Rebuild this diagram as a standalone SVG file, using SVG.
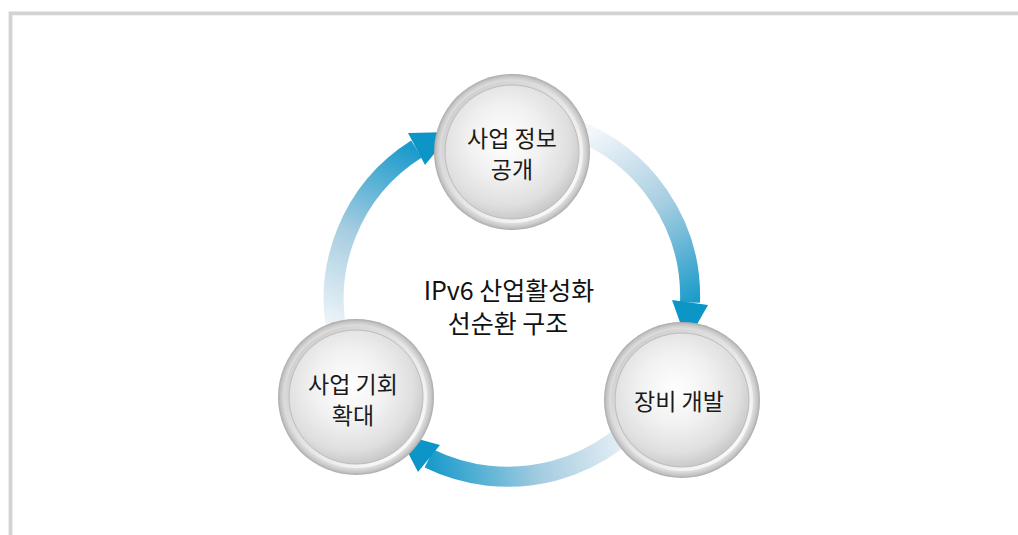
<svg xmlns="http://www.w3.org/2000/svg" xmlns:xlink="http://www.w3.org/1999/xlink" width="1018" height="535" viewBox="0 0 1018 535">
  <style>
    .frame { fill: none; stroke: #d3d3d3; }
    .label { font-family: "Noto Sans CJK KR", "Noto Sans", sans-serif; font-size: 23px; fill: #1a1a1a; text-anchor: middle; }
    .title { font-family: "Noto Sans CJK KR", "Noto Sans", sans-serif; font-size: 25px; fill: #111111; text-anchor: middle; }
    .shaft { fill: none; stroke-width: 20; stroke-linecap: butt; }
    .head { fill: #0b96c7; }
  </style>
  <defs>
    <radialGradient id="rim" cx="0.5" cy="0.5" r="0.5">
      <stop offset="0" stop-color="#f7f7f7"/>
      <stop offset="0.82" stop-color="#ececec"/>
      <stop offset="0.92" stop-color="#dcdcdc"/>
      <stop offset="0.97" stop-color="#c4c4c4"/>
      <stop offset="1" stop-color="#a9a9a9"/>
    </radialGradient>
    <linearGradient id="groove" x1="0.15" y1="0.15" x2="0.85" y2="0.85">
      <stop offset="0" stop-color="#d0d0d0"/>
      <stop offset="0.5" stop-color="#e6e6e6"/>
      <stop offset="1" stop-color="#f8f8f8"/>
    </linearGradient>
    <radialGradient id="face" cx="0.45" cy="0.42" r="0.6">
      <stop offset="0" stop-color="#ffffff"/>
      <stop offset="0.45" stop-color="#f1f1f1"/>
      <stop offset="0.8" stop-color="#dfdfdf"/>
      <stop offset="1" stop-color="#c6c6c6"/>
    </radialGradient>
    <!-- silver button shared by all three nodes -->
    <g id="sphere">
      <circle r="78" fill="url(#rim)"/>
      <circle r="71" fill="url(#groove)"/>
      <circle r="67" fill="url(#face)" stroke="#bcbcbc" stroke-width="1"/>
    </g>
    <linearGradient id="g1" gradientUnits="userSpaceOnUse" x1="585" y1="135" x2="690" y2="305">
      <stop offset="0" stop-color="#f4f7fa"/>
      <stop offset="0.5" stop-color="#a6cde1"/>
      <stop offset="1" stop-color="#1a9bcb"/>
    </linearGradient>
    <linearGradient id="g2" gradientUnits="userSpaceOnUse" x1="640" y1="420" x2="430" y2="462">
      <stop offset="0" stop-color="#f4f7fa"/>
      <stop offset="0.5" stop-color="#a6cde1"/>
      <stop offset="1" stop-color="#1a9bcb"/>
    </linearGradient>
    <linearGradient id="g3" gradientUnits="userSpaceOnUse" x1="334" y1="335" x2="416" y2="150">
      <stop offset="0" stop-color="#f4f7fa"/>
      <stop offset="0.5" stop-color="#a6cde1"/>
      <stop offset="1" stop-color="#1a9bcb"/>
    </linearGradient>
  </defs>

  <!-- page frame: top and left rules -->
  <path class="frame" d="M10.5 535 V13.3 H1018" stroke-width="3.8"/>

  <!-- cycle connectors -->
  <g id="connectors">
    <path class="shaft" stroke="url(#g1)" d="M571.9 128.7 A178 178 0 0 1 690 302.5"/>
    <polygon class="head" points="672,300 708,305 687,342"/>
    <path class="shaft" stroke="url(#g2)" d="M656.8 398.1 A180 180 0 0 1 429 458.5"/>
    <polygon class="head" points="440,445 418,472 398,433.5"/>
    <path class="shaft" stroke="url(#g3)" d="M339.1 342.1 A177 177 0 0 1 416.5 149"/>
    <polygon class="head" points="408,133 425,165 452,132"/>
  </g>

  <g id="node-info" transform="translate(512,152)">
    <use xlink:href="#sphere"/>
    <text class="label" x="0" y="-5">사업 정보</text>
    <text class="label" x="0" y="26">공개</text>
  </g>

  <g id="node-equipment" transform="translate(682,400)">
    <use xlink:href="#sphere"/>
    <text class="label" x="-3" y="10">장비 개발</text>
  </g>

  <g id="node-opportunity" transform="translate(356,397)">
    <use xlink:href="#sphere"/>
    <text class="label" x="-3" y="-4">사업 기회</text>
    <text class="label" x="-3" y="27">확대</text>
  </g>

  <g id="center-title">
    <text class="title" x="509" y="300">IPv6 산업활성화</text>
    <text class="title" x="508" y="333">선순환 구조</text>
  </g>
</svg>
